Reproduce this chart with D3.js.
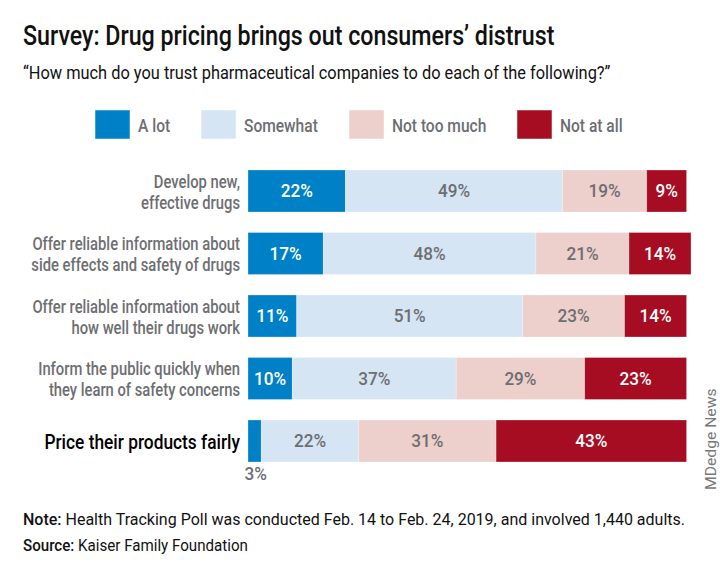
<!DOCTYPE html>
<html>
<head>
<meta charset="utf-8">
<script src="https://cdn.jsdelivr.net/npm/d3@7"></script>
<style>
  html, body { margin: 0; padding: 0; background: #fff; }
  svg { display: block; }
  text { font-family: "Roboto", "Liberation Sans", sans-serif; }
</style>
</head>
<body>
<svg id="chart" width="720" height="576"></svg>
<script>
// ---- data ----
const categories = [
  "Develop new,\neffective drugs",
  "Offer reliable information about\nside effects and safety of drugs",
  "Offer reliable information about\nhow well their drugs work",
  "Inform the public quickly when\nthey learn of safety concerns",
  "Price their products fairly"
];
const seriesNames = ["A lot", "Somewhat", "Not too much", "Not at all"];
const aLot       = [22, 17, 11, 10, 3];
const somewhat   = [49, 48, 51, 37, 22];
const notTooMuch = [19, 21, 23, 29, 31];
const notAtAll   = [9, 14, 14, 23, 43];
const xDomain = [0, 100];

const title = "Survey: Drug pricing brings out consumers\u2019 distrust";
const subtitle = "\u201cHow much do you trust pharmaceutical companies to do each of the following?\u201d";
const noteLabel = "Note:";
const noteText = " Health Tracking Poll was conducted Feb. 14 to Feb. 24, 2019, and involved 1,440 adults.";
const sourceLabel = "Source:";
const sourceText = " Kaiser Family Foundation";
const credit = "MDedge News";

// ---- styles ----
const colors = ["#0080c6", "#d5e5f4", "#edcfcb", "#a60d22"];
const labelColors = ["#ffffff", "#6d6e71", "#6d6e71", "#ffffff"];
const grey = "#6d6e71";

function condense(sel, f) {
  sel.each(function () {
    const w = this.getComputedTextLength();
    d3.select(this).attr("textLength", w * f).attr("lengthAdjust", "spacingAndGlyphs");
  });
}

const svg = d3.select("#chart");

// table
const table = categories.map((c, i) => ({
  category: c,
  "A lot": aLot[i],
  "Somewhat": somewhat[i],
  "Not too much": notTooMuch[i],
  "Not at all": notAtAll[i]
}));
const stacked = d3.stack().keys(seriesNames)(table);

const x = d3.scaleLinear().domain(xDomain).range([248, 691]);
const y = d3.scaleBand().domain(categories).range([170, 462]).paddingInner(0.328).paddingOuter(0);

// title
svg.append("text").attr("x", 23).attr("y", 44.5)
  .attr("font-size", 27).attr("font-weight", 500).attr("fill", "#111").text(title).call(condense, 0.86);
svg.append("text").attr("x", 23).attr("y", 78.5)
  .attr("font-size", 18.5).attr("fill", "#111").text(subtitle).call(condense, 0.885);

// legend
const legendBoxX = [95, 201, 349, 517];
const legend = svg.append("g");
seriesNames.forEach((s, i) => {
  legend.append("rect").attr("x", legendBoxX[i]).attr("y", 110)
    .attr("width", 35).attr("height", 29).attr("fill", colors[i])
    .attr("stroke", "#fff").attr("stroke-opacity", 0.5).attr("stroke-width", 1);
  legend.append("text").attr("x", legendBoxX[i] + 43).attr("y", 132)
    .attr("font-size", 18.5).attr("font-weight", 500).attr("fill", grey).text(s).call(condense, 0.84);
});

// bars
const layers = svg.append("g").selectAll("g").data(stacked).join("g")
  .attr("fill", (d, i) => colors[i]);
layers.selectAll("rect").data(d => d).join("rect")
  .attr("x", d => x(d[0]))
  .attr("y", d => y(d.data.category))
  .attr("width", d => x(d[1]) - x(d[0]))
  .attr("height", y.bandwidth())
  .attr("stroke", "#fff").attr("stroke-opacity", 0.35).attr("stroke-width", 0.8);

// value labels
stacked.forEach((layer, si) => {
  layer.forEach((d, ci) => {
    const v = d[1] - d[0];
    const w = x(d[1]) - x(d[0]);
    const cy = y(d.data.category) + y.bandwidth() / 2;
    let t;
    if (w > 30) {
      t = svg.append("text")
        .attr("x", (x(d[0]) + x(d[1])) / 2).attr("y", cy + 6.3)
        .attr("fill", labelColors[si]);
    } else {
      t = svg.append("text")
        .attr("x", (x(d[0]) + x(d[1])) / 2 + 1).attr("y", y(d.data.category) + y.bandwidth() + 18)
        .attr("fill", grey);
    }
    t.attr("text-anchor", "middle").attr("font-size", 17.5).attr("font-weight", 500)
      .text(v + "%").call(condense, 0.98);
  });
});

// category labels
categories.forEach((c, i) => {
  const lines = c.split("\n");
  const cy = y(c) + y.bandwidth() / 2;
  const last = i === categories.length - 1;
  const t = svg.append("text").attr("text-anchor", "end")
    .attr("font-size", last ? 21 : 18)
    .attr("font-weight", 500)
    .attr("fill", last ? "#000" : grey);
  if (lines.length === 1) {
    t.append("tspan").attr("x", 240).attr("y", cy + 7.5).text(lines[0]);
  } else {
    lines.forEach((l, j) => {
      t.append("tspan").attr("x", 240).attr("y", cy - 3.5 + j * 21).text(l);
    });
  }
  t.selectAll("tspan").call(condense, last ? 0.825 : 0.82);
});

// notes
const note = svg.append("text").attr("x", 23).attr("y", 525).attr("font-size", 16).attr("fill", "#111");
note.append("tspan").attr("font-weight", 500).text(noteLabel);
note.append("tspan").text(noteText);
note.call(condense, 1.0);
const src = svg.append("text").attr("x", 23).attr("y", 551).attr("font-size", 16).attr("fill", "#111");
src.append("tspan").attr("font-weight", 500).text(sourceLabel);
src.append("tspan").text(sourceText);
src.call(condense, 0.945);

// credit
svg.append("text").attr("transform", "translate(716,490) rotate(-90)")
  .attr("font-size", 14).attr("fill", "#777")
  .attr("font-family", "Liberation Sans, Arial, sans-serif").text(credit).call(condense, 1.12);
</script>
</body>
</html>
